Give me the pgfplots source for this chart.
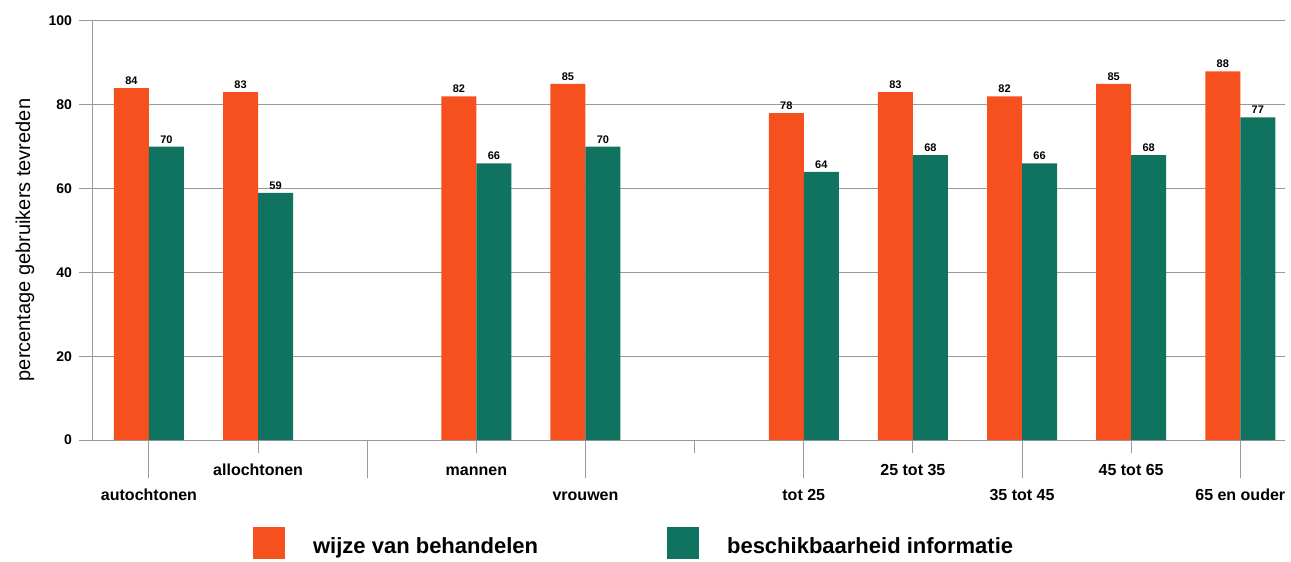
\documentclass[border=0pt]{standalone}
\usepackage{fontspec}
\setmainfont{Liberation Sans}
\usepackage{pgfplots}
\pgfplotsset{compat=1.18}
\definecolor{cOrange}{HTML}{F5501E}
\definecolor{cTeal}{HTML}{0F7360}
\definecolor{cGrid}{HTML}{9A9A9A}
\begin{document}
\begin{tikzpicture}
\begin{axis}[
  at={(0,0)}, anchor=south west,
  scale only axis,
  width=596pt, height=209.5pt,
  xmin=-0.513, xmax=10.41,
  ymin=0, ymax=100,
  axis lines*=left,
  axis line style={cGrid, line width=0.5pt},
  ybar=0pt, bar width=17.5pt,
  /pgf/number format/assume math mode=true,
  tick align=outside,
  tick style={cGrid, line width=0.5pt},
  major tick length=19pt,
  xtick={0,2,4,6,8,10},
  xticklabels={autochtonen,,vrouwen,tot 25,35 tot 45,65 en ouder},
  xticklabel style={font=\fontsize{8}{9}\selectfont\bfseries, anchor=base, yshift=-11pt},
  extra x ticks={1,3,5,7,9},
  extra x tick labels={allochtonen,mannen,,25 tot 35,45 tot 65},
  extra x tick style={major tick length=6.5pt},
  ytick=\empty,
  extra y ticks={0,20,40,60,80,100},
  extra y tick style={major tick length=7pt, grid=major,
    yticklabel style={font=\fontsize{7}{8}\selectfont\bfseries}},
  major grid style={cGrid, line width=0.5pt},
  ylabel={percentage gebruikers tevreden},
  every axis y label/.style={at={(axis description cs:0,0.5)}, xshift=-34pt, yshift=-4.75pt, rotate=90, anchor=center, font=\fontsize{10}{12}\selectfont},
  nodes near coords,
  every node near coord/.append style={font=\fontsize{5.5}{6}\selectfont\bfseries, inner sep=1.5pt, black},
  legend columns=2,
  legend style={at={(axis description cs:0.134,-0.2077)}, anchor=north west, draw=none, fill=none, inner sep=0pt,
    font=\fontsize{11}{13}\selectfont\bfseries,
    /tikz/every even column/.append style={column sep=62.5pt}},
  legend image code/.code={\fill[#1] (0pt,-6pt) rectangle (16pt,10pt); \path (28pt,0pt);},
]
\addplot[fill=cOrange, draw=none] coordinates {(0,84) (1,83) (3,82) (4,85) (6,78) (7,83) (8,82) (9,85) (10,88)};
\addplot[fill=cTeal, draw=none] coordinates {(0,70) (1,59) (3,66) (4,70) (6,64) (7,68) (8,66) (9,68) (10,77)};
\legend{wijze van behandelen, beschikbaarheid informatie}
\end{axis}
\pgfresetboundingbox
\path (-46.5pt,-61pt) rectangle (599pt,220pt);
\end{tikzpicture}
\end{document}
